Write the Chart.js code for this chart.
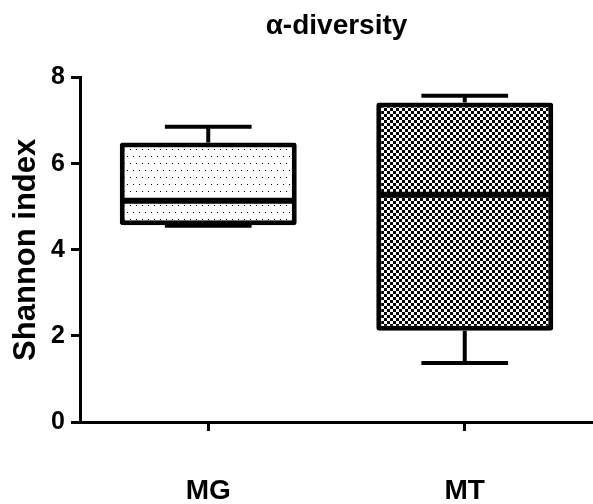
<!DOCTYPE html>
<html>
<head>
<meta charset="utf-8">
<script src="https://cdn.jsdelivr.net/npm/chart.js@4.4.1/dist/chart.umd.min.js"></script>
<style>
  html, body { margin: 0; padding: 0; background: #ffffff; }
  #wrap { width: 593px; height: 504px; position: relative; }
</style>
</head>
<body>
<div id="wrap"><canvas id="chart"></canvas></div>
<script>
// Box plot values
const groups = ['MG', 'MT'];
const mins = [4.56, 1.37];
const q1s = [4.57, 2.12];
const medians = [5.14, 5.28];
const q3s = [6.49, 7.42];
const maxs = [6.86, 7.58];
const yTicks = [0, 2, 4, 6, 8];

const FONT = '"Liberation Sans", Arial, sans-serif';

// Fill patterns: dotted for MG, checkerboard for MT
function makeDots() {
  const c = document.createElement('canvas');
  c.width = 6; c.height = 14;
  const g = c.getContext('2d');
  g.fillStyle = '#ffffff';
  g.fillRect(0, 0, 6, 14);
  g.fillStyle = '#000000';
  g.fillRect(1, 2, 1, 1);
  g.fillRect(4, 9, 1, 1);
  return g.createPattern(c, 'repeat');
}

function makeChecker() {
  const c = document.createElement('canvas');
  c.width = 6; c.height = 6;
  const g = c.getContext('2d');
  g.fillStyle = '#ffffff';
  g.fillRect(0, 0, 6, 6);
  g.fillStyle = '#000000';
  g.fillRect(0, 0, 3, 3);
  g.fillRect(3, 3, 3, 3);
  return g.createPattern(c, 'repeat');
}

// Draw medians and whiskers on top of the floating bars
const whiskerPlugin = {
  id: 'whiskers',
  afterDatasetsDraw(chart) {
    const ctx = chart.ctx;
    const y = chart.scales.y;
    const meta = chart.getDatasetMeta(0);
    ctx.save();
    ctx.strokeStyle = '#000000';
    meta.data.forEach((bar, i) => {
      const cx = bar.x;
      const half = bar.width / 2;
      const cap = bar.width * 0.245;
      // median
      ctx.lineWidth = 6;
      ctx.beginPath();
      ctx.moveTo(cx - half + 2, y.getPixelForValue(medians[i]));
      ctx.lineTo(cx + half - 2, y.getPixelForValue(medians[i]));
      ctx.stroke();
      // whiskers
      ctx.lineWidth = 4;
      const yMax = y.getPixelForValue(maxs[i]);
      const yQ3 = y.getPixelForValue(q3s[i]);
      const yMin = y.getPixelForValue(mins[i]);
      const yQ1 = y.getPixelForValue(q1s[i]);
      ctx.beginPath();
      ctx.moveTo(cx, yQ3);
      ctx.lineTo(cx, yMax);
      ctx.moveTo(cx - cap, yMax);
      ctx.lineTo(cx + cap, yMax);
      ctx.moveTo(cx, yQ1);
      ctx.lineTo(cx, yMin);
      ctx.moveTo(cx - cap, yMin);
      ctx.lineTo(cx + cap, yMin);
      ctx.stroke();
    });
    ctx.restore();
  }
};

const ctx = document.getElementById('chart').getContext('2d');
new Chart(ctx, {
  type: 'bar',
  data: {
    labels: groups,
    datasets: [{
      data: q1s.map((q, i) => [q, q3s[i]]),
      backgroundColor: [makeDots(), makeChecker()],
      borderColor: '#000000',
      borderWidth: 5,
      borderSkipped: false,
      borderRadius: 3,
      barPercentage: 0.69,
      categoryPercentage: 1
    }]
  },
  options: {
    responsive: true,
    maintainAspectRatio: false,
    animation: false,
    layout: { padding: { top: 0, right: 0, bottom: 0, left: 0 } },
    plugins: {
      legend: { display: false },
      tooltip: { enabled: false },
      title: {
        display: true,
        text: 'α-diversity',
        fullSize: false,
        color: '#000000',
        font: { family: FONT, size: 28, weight: 'bold' },
        padding: { top: 9, bottom: 35 }
      }
    },
    scales: {
      x: {
        offset: true,
        grid: {
          offset: false,
          drawOnChartArea: false,
          drawTicks: true,
          tickLength: 9,
          tickWidth: 3,
          tickColor: '#000000'
        },
        border: { display: true, color: '#000000', width: 3 },
        ticks: {
          color: '#000000',
          padding: 43,
          font: { family: FONT, size: 28, weight: 'bold' }
        },
        afterFit(scale) { scale.height = 82; }
      },
      y: {
        min: 0,
        max: 8,
        afterBuildTicks(scale) { scale.ticks = yTicks.map(v => ({ value: v })); },
        grid: {
          drawOnChartArea: false,
          drawTicks: true,
          tickLength: 9,
          tickWidth: 3,
          tickColor: '#000000'
        },
        border: { display: true, color: '#000000', width: 3 },
        ticks: {
          color: '#000000',
          padding: 6,
          font: { family: FONT, size: 25, weight: 'bold' }
        },
        title: {
          display: true,
          text: 'Shannon index',
          color: '#000000',
          padding: { top: 8, bottom: 0 },
          font: { family: FONT, size: 31, weight: 'bold' }
        },
        afterFit(scale) { scale.width = 80; }
      }
    }
  },
  plugins: [whiskerPlugin]
});
</script>
</body>
</html>
